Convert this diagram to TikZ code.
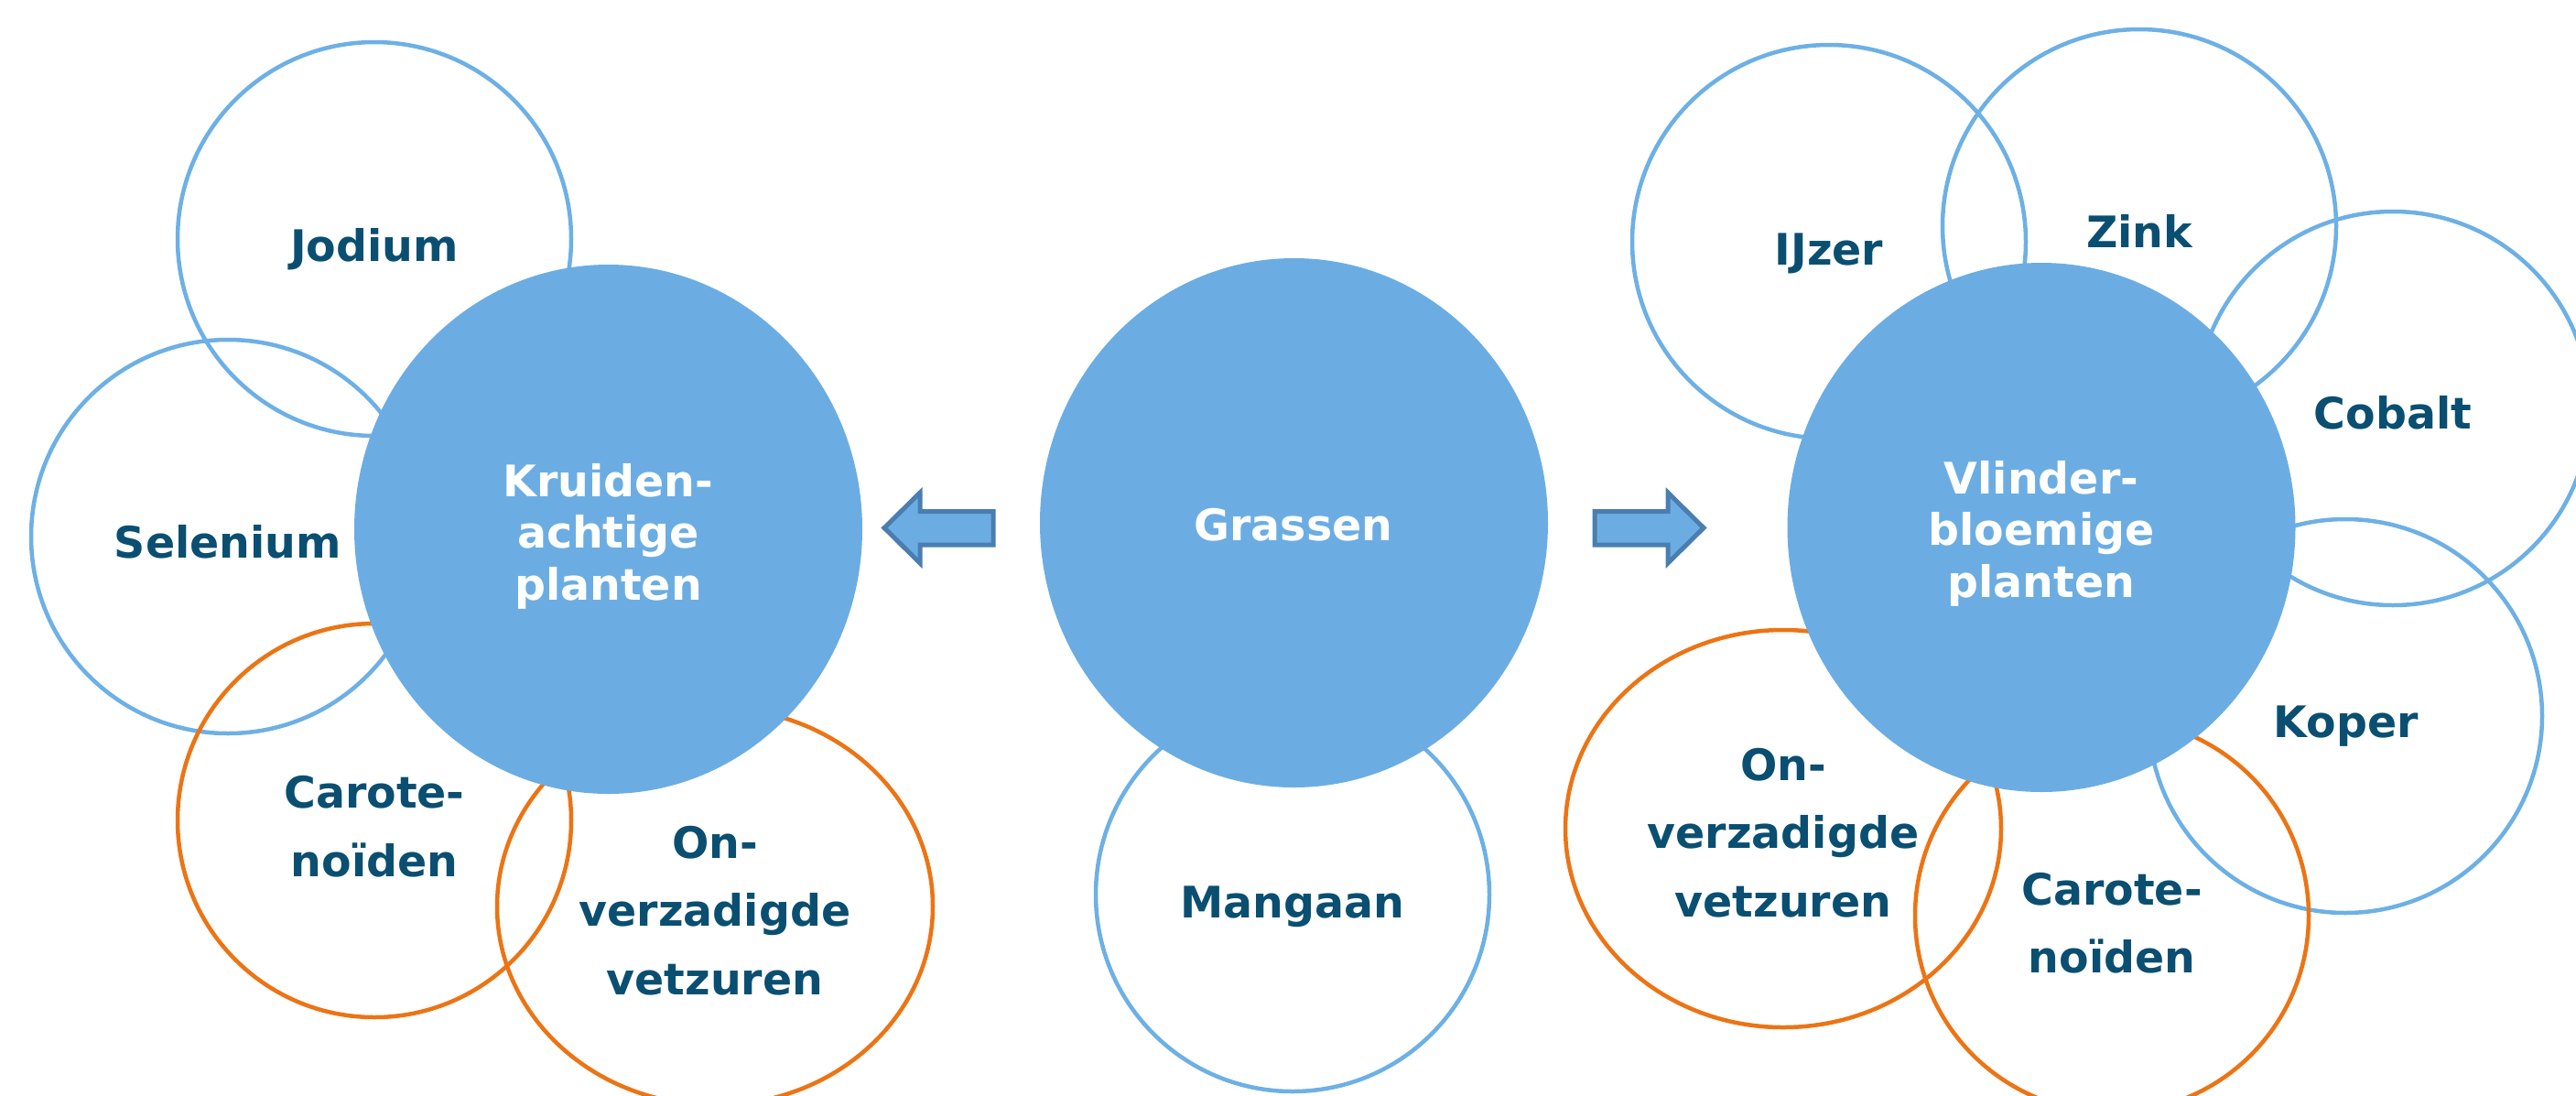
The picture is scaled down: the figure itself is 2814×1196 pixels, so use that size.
\documentclass[tikz,border=0pt]{standalone}
\usepackage{fontspec}
\setmainfont{DejaVu Sans}
\usetikzlibrary{shapes.geometric}
\definecolor{bfill}{HTML}{6BADE3}
\definecolor{bline}{HTML}{6DB0E5}
\definecolor{oline}{HTML}{EC7414}
\definecolor{tdark}{HTML}{0A4F71}
\definecolor{aline}{HTML}{4A7EB0}
\newcommand{\stk}[1]{\begin{tabular}[t]{@{}c@{}}#1\end{tabular}}
\begin{document}
\begin{tikzpicture}[x=0.1mm,y=-0.1mm,
  outl/.style={ellipse, draw=bline, line width=0.45mm, inner sep=0pt, outer sep=0pt},
  orng/.style={ellipse, draw=oline, line width=0.45mm, inner sep=0pt, outer sep=0pt},
  core/.style={ellipse, fill=bfill, inner sep=0pt, outer sep=0pt, minimum width=55.5mm, minimum height=57.8mm},
  small/.style={minimum width=43mm, minimum height=43mm},
  wide/.style={minimum width=47.6mm, minimum height=43.4mm},
  lbl/.style={anchor=base, text=tdark, inner sep=0pt, font=\fontsize{13.5}{21.3}\selectfont\bfseries},
  wlbl/.style={anchor=base, text=white, inner sep=0pt, font=\fontsize{13.5}{16.2}\selectfont\bfseries},
  blk/.style={fill=bfill, draw=aline, line width=0.5mm, line join=miter}]
\useasboundingbox (0,0) rectangle (2814,1196);
\fill[white] (0,0) rectangle (2814,1196);
\clip (0,0) rectangle (2814,1196);
% outline circles
\node[outl, small] (jod) at (409,261) {};
\node[outl, small] (sel) at (249,586) {};
\node[orng, small] (carL) at (409,896) {};
\node[orng, wide] (onvL) at (781,990) {};
\node[outl, small] (man) at (1412,977) {};
\node[outl, small] (ijz) at (1998,264) {};
\node[outl, small] (zin) at (2337,247) {};
\node[outl, small] (cob) at (2614,446) {};
\node[outl, small] (kop) at (2562,782) {};
\node[orng, wide] (onvR) at (1948,905) {};
\node[orng, small] (carR) at (2307,1000) {};
% filled circles
\node[core] (kru) at (664.5,578) {};
\node[core] (gra) at (1413.5,571) {};
\node[core] (vli) at (2230,576) {};
% arrows
\draw[blk] (966,576.5) -- (1005,538) -- (1005,558.5) -- (1085,558.5) -- (1085,595) -- (1005,595) -- (1005,615) -- cycle;
\draw[blk] (1861,576.5) -- (1822,538) -- (1822,558.5) -- (1742,558.5) -- (1742,595) -- (1822,595) -- (1822,615) -- cycle;
% labels
\node[lbl] (tjod) at (409,285) {Jodium};
\node[lbl] (tsel) at (249,609) {Selenium};
\node[lbl] (tman) at (1412,1002) {Mangaan};
\node[lbl] (tijz) at (1998,289) {IJzer};
\node[lbl] (tzin) at (2337,270) {Zink};
\node[lbl] (tcob) at (2614,468) {Cobalt};
\node[lbl] (tkop) at (2563,805) {Koper};
\node[wlbl] (tgra) at (1413,590) {Grassen};
\node[wlbl] (tkru) at (664.5,542) {\stk{Kruiden-\\achtige\\planten}};
\node[wlbl] (tvli) at (2230,539) {\stk{Vlinder-\\bloemige\\planten}};
\node[lbl] (tcarL) at (409,882.5) {\stk{Carote-\\noïden}};
\node[lbl] (tonvL) at (781,937) {\stk{On-\\verzadigde\\vetzuren}};
\node[lbl] (tonvR) at (1948,852) {\stk{On-\\verzadigde\\vetzuren}};
\node[lbl] (tcarR) at (2307,988) {\stk{Carote-\\noïden}};
\end{tikzpicture}
\end{document}
